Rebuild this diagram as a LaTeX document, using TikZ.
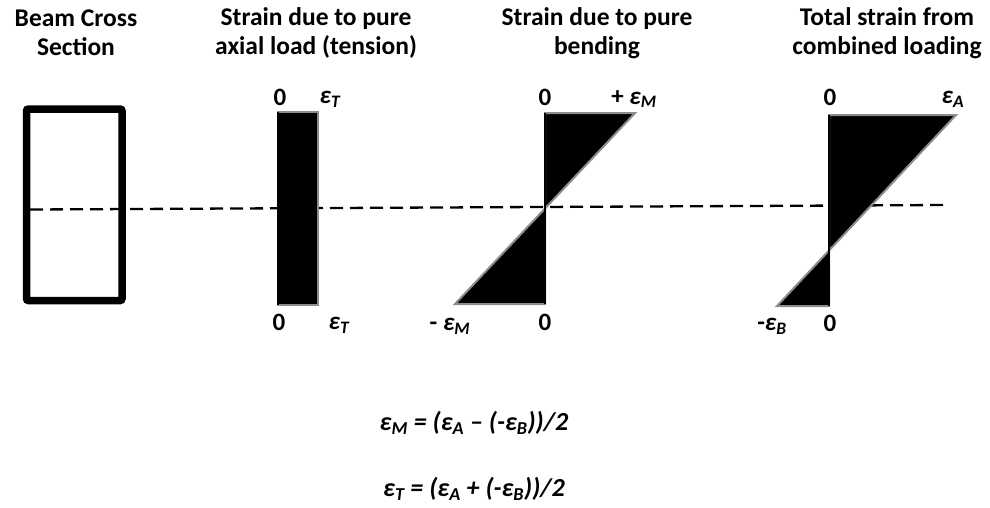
\documentclass[tikz,border=0pt]{standalone}
\usepackage{fontspec}
\setmainfont{Carlito}
\newcommand\epsi[1]{\textit{ε\textsubscript{#1}}}
\begin{document}
\begin{tikzpicture}[x=1pt,y=-1pt,
  title/.style={font=\fontsize{25.5}{29}\selectfont\bfseries,align=center,inner sep=0pt},
  lab/.style={font=\fontsize{25}{28}\selectfont\bfseries,inner sep=0pt},
  eqn/.style={font=\fontsize{26}{29}\selectfont\bfseries\itshape,inner sep=0pt},
  strainfill/.style={fill=black,draw=gray!90,line width=2pt,line join=miter},
  axis/.style={draw=black,line width=2.2pt}]
\useasboundingbox (0,0) rectangle (990,507);
% titles
\node[title] (t1) at (76,33) {Beam Cross\\Section};
\node[title] (t2) at (316,33) {Strain due to pure\\axial load (tension)};
\node[title] (t3) at (597,33) {Strain due to pure\\bending};
\node[title] (t4) at (887,33) {Total strain from\\combined loading};
% beam cross section
\draw[line width=7.5pt,rounded corners=2pt] (26.5,109) rectangle (122,300.5);
\coordinate (dl) at (30,209.5);
\coordinate (dr) at (946,205);
\draw[line width=2.3pt,dash pattern=on 13pt off 7pt] (dl) -- (dr);
% axial
\draw[strainfill] (278,112) rectangle (318,305);
\draw[axis] (278,112) -- (278,305);
\node[lab] (a0t) at (280,97) {0};
\node[lab] (aet) at (330,99) {\epsi{T}};
\node[lab] (a0b) at (279,322) {0};
\node[lab] (aeb) at (339,325) {\epsi{T}};
% bending
\draw[strainfill] (545,113) -- (635,113) -- (545,208.5) -- cycle;
\draw[strainfill] (545,208.5) -- (545,304) -- (455,304) -- cycle;
\draw[axis] (545,113) -- (545,304);
\node[lab] (b0t) at (545,97) {0};
\node[lab] (bet) at (634,99) {+ \epsi{M}};
\node[lab] (beb) at (450,326) {- \epsi{M}};
\node[lab] (b0b) at (545,322) {0};
% combined
\draw[strainfill] (829,115) -- (956,115) -- (829,250.5) -- cycle;
\draw[strainfill] (829,250.5) -- (829,306) -- (777,306) -- cycle;
\draw[axis] (829,115) -- (829,306);
\node[lab] (c0t) at (830,97) {0};
\node[lab] (cet) at (953,99) {\epsi{A}};
\node[lab] (ceb) at (772,326) {-\epsi{B}};
\node[lab] (c0b) at (830,323) {0};
% equations
\node[eqn] (e1) at (474,423) {ε\textsubscript{M} = (ε\textsubscript{A} – (-ε\textsubscript{B}))/2};
\node[eqn] (e2) at (474,489) {ε\textsubscript{T} = (ε\textsubscript{A} + (-ε\textsubscript{B}))/2};
\end{tikzpicture}
\end{document}
